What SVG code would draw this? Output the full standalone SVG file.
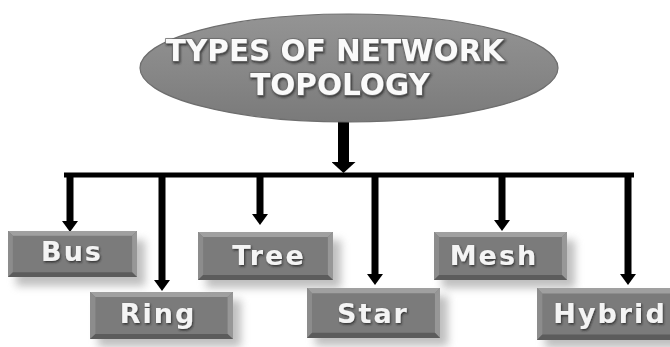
<svg xmlns="http://www.w3.org/2000/svg" xmlns:xlink="http://www.w3.org/1999/xlink" width="670" height="347" viewBox="0 0 670 347">
<style>
.title{font-family:"DejaVu Sans",Verdana,sans-serif;font-weight:bold;font-size:29.5px;fill:#fafafa;stroke:#6a6a6a;stroke-width:1.4px;paint-order:stroke;text-anchor:middle}
.lbl{font-family:"DejaVu Sans",Verdana,sans-serif;font-weight:bold;font-size:27px;letter-spacing:2px;fill:#f4f4f4;text-anchor:middle}
.conn{stroke:#000;fill:none}
</style>
<defs>
<filter id="ts" x="-10%" y="-20%" width="120%" height="160%">
<feDropShadow dx="1" dy="1.5" stdDeviation="0.8" flood-color="#222" flood-opacity="0.8"/>
</filter>
<filter id="bs" x="-20%" y="-30%" width="150%" height="180%">
<feGaussianBlur stdDeviation="4"/>
</filter>
<linearGradient id="eg" x1="0" y1="0" x2="0" y2="1">
<stop offset="0" stop-color="#949494"/>
<stop offset="0.5" stop-color="#888888"/>
<stop offset="1" stop-color="#7a7a7a"/>
</linearGradient>
<symbol id="box" viewBox="0 0 132 48" preserveAspectRatio="none">
<rect x="0" y="0" width="132" height="48" fill="#7b7b7b"/>
<polygon points="0,0 132,0 127,5 5,5" fill="#a0a0a0"/>
<polygon points="0,0 5,5 5,43 0,48" fill="#8c8c8c"/>
<polygon points="132,0 132,48 127,43 127,5" fill="#979797"/>
<polygon points="0,48 132,48 127,43 5,43" fill="#5c5c5c"/>
</symbol>
<marker id="ah" viewBox="0 0 11 16" refX="0" refY="8" markerWidth="11" markerHeight="16" markerUnits="userSpaceOnUse" orient="auto">
<path d="M0,0 L11,8 L0,16 Z" fill="#000"/>
</marker>
<marker id="ahb" viewBox="0 0 11 24" refX="0" refY="12" markerWidth="11" markerHeight="24" markerUnits="userSpaceOnUse" orient="auto">
<path d="M0,0 L11,12 L0,24 Z" fill="#000"/>
</marker>
</defs>
<rect width="670" height="347" fill="#fff"/>

<g id="connectors">
<line class="conn" x1="343.5" y1="121" x2="343.5" y2="162" stroke-width="11" marker-end="url(#ahb)"/>
<line class="conn" x1="64" y1="175" x2="634" y2="175" stroke-width="5"/>
<line class="conn" x1="70" y1="173" x2="70" y2="221" stroke-width="7" marker-end="url(#ah)"/>
<line class="conn" x1="162" y1="173" x2="162" y2="280" stroke-width="7" marker-end="url(#ah)"/>
<line class="conn" x1="260" y1="173" x2="260" y2="214" stroke-width="7" marker-end="url(#ah)"/>
<line class="conn" x1="375" y1="173" x2="375" y2="274" stroke-width="7" marker-end="url(#ah)"/>
<line class="conn" x1="502" y1="173" x2="502" y2="220" stroke-width="7" marker-end="url(#ah)"/>
<line class="conn" x1="628" y1="173" x2="628" y2="274" stroke-width="7" marker-end="url(#ah)"/>
</g>

<g id="title">
<ellipse cx="349" cy="68" rx="209" ry="54" fill="url(#eg)" stroke="#6e6e6e" stroke-width="1.2"/>
<g filter="url(#ts)">
<text class="title" x="335" y="61">TYPES OF NETWORK</text>
<text class="title" x="340" y="95">TOPOLOGY</text>
</g>
</g>

<g id="bus">
<rect x="16" y="240" width="129" height="46" fill="#8a8a8a" opacity="0.55" filter="url(#bs)"/>
<use xlink:href="#box" x="8" y="231" width="129" height="46"/>
<text class="lbl" x="72" y="261" filter="url(#ts)">Bus</text>
</g>

<g id="ring">
<rect x="98" y="300" width="143" height="47" fill="#8a8a8a" opacity="0.55" filter="url(#bs)"/>
<use xlink:href="#box" x="90" y="292" width="143" height="47"/>
<text class="lbl" x="158" y="323" filter="url(#ts)">Ring</text>
</g>

<g id="tree">
<rect x="206" y="240" width="135" height="48" fill="#8a8a8a" opacity="0.55" filter="url(#bs)"/>
<use xlink:href="#box" x="198" y="232" width="135" height="48"/>
<text class="lbl" x="269" y="265" filter="url(#ts)">Tree</text>
</g>

<g id="star">
<rect x="315" y="296" width="133" height="50" fill="#8a8a8a" opacity="0.55" filter="url(#bs)"/>
<use xlink:href="#box" x="307" y="288" width="133" height="50"/>
<text class="lbl" x="373" y="323" filter="url(#ts)">Star</text>
</g>

<g id="mesh">
<rect x="442" y="240" width="133" height="48" fill="#8a8a8a" opacity="0.55" filter="url(#bs)"/>
<use xlink:href="#box" x="434" y="232" width="133" height="48"/>
<text class="lbl" x="494" y="265" filter="url(#ts)">Mesh</text>
</g>

<g id="hybrid">
<rect x="545" y="296" width="140" height="52" fill="#8a8a8a" opacity="0.55" filter="url(#bs)"/>
<use xlink:href="#box" x="537" y="288" width="140" height="52"/>
<text class="lbl" x="610" y="323" filter="url(#ts)">Hybrid</text>
</g>
</svg>
